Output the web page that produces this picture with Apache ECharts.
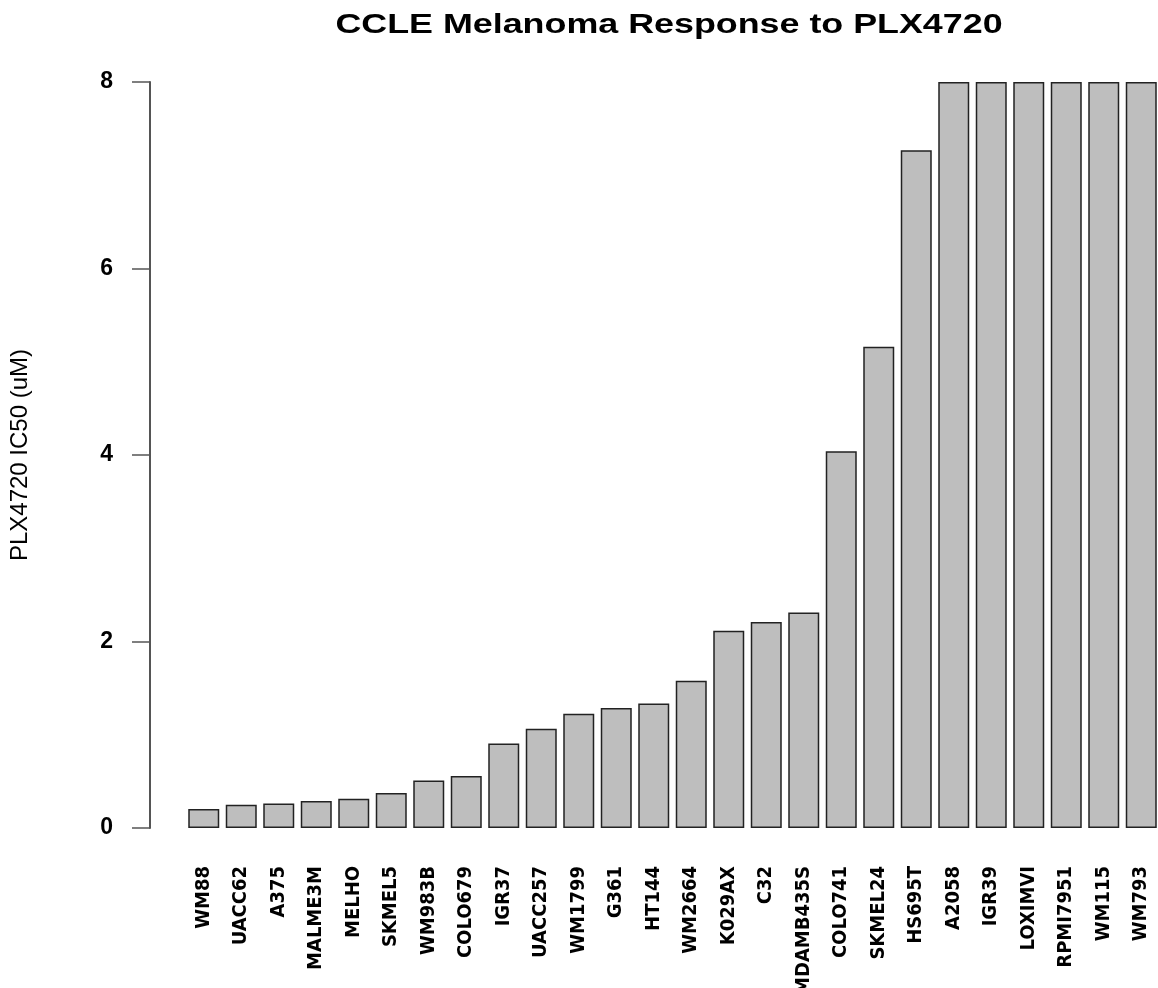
<!DOCTYPE html>
<html>
<head>
<meta charset="utf-8">
<script src="https://cdn.jsdelivr.net/npm/echarts@6/dist/echarts.min.js"></script>
<style>
html,body{margin:0;padding:0;background:#fff;}
#chart{width:1158px;height:988px;}
</style>
</head>
<body>
<div id="chart"></div>
<script>
const chartTitle = "CCLE Melanoma Response to PLX4720";
const yAxisTitle = "PLX4720 IC50 (uM)";
const cellLines = ["WM88","UACC62","A375","MALME3M","MELHO","SKMEL5","WM983B","COLO679","IGR37","UACC257","WM1799","G361","HT144","WM2664","K029AX","C32","MDAMB435S","COLO741","SKMEL24","HS695T","A2058","IGR39","LOXIMVI","RPMI7951","WM115","WM793"];
const ic50Values = [0.204,0.25,0.264,0.289,0.314,0.375,0.51,0.557,0.907,1.064,1.225,1.286,1.335,1.579,2.115,2.208,2.311,4.04,5.16,7.267,8,8,8,8,8,8];
const yTicks = [0,2,4,6,8];

const chart = echarts.init(document.getElementById('chart'));
chart.setOption({
  animation: false,
  backgroundColor: '#fff',
  graphic: [{
    type: 'text',
    x: 669, y: 25,
    scaleX: 1.28,
    style: {
      text: chartTitle,
      font: 'bold 28px "Liberation Sans", Arial, sans-serif',
      fill: '#000',
      textAlign: 'center',
      textVerticalAlign: 'middle'
    }
  }],
  grid: {left: 185, width: 975, top: 82, height: 746, containLabel: false, outerBoundsMode: 'none'},
  xAxis: {
    type: 'category',
    data: cellLines,
    boundaryGap: true,
    axisLine: {show: false},
    axisTick: {show: false},
    axisLabel: {
      interval: 0,
      rotate: 90,
      margin: 38,
      color: '#000',
      fontWeight: 'bold',
      fontSize: 20,
      fontFamily: '"Liberation Sans Narrow", "DejaVu Sans Condensed", "Liberation Sans", sans-serif'
    }
  },
  yAxis: {
    type: 'value',
    min: yTicks[0],
    max: yTicks[yTicks.length - 1],
    interval: 2,
    offset: 35,
    splitLine: {show: false},
    axisLine: {show: true, lineStyle: {color: '#555', width: 2}},
    axisTick: {show: true, length: 18, lineStyle: {color: '#555', width: 1.5}},
    axisLabel: {
      margin: 37,
      color: '#000',
      fontWeight: 'bold',
      fontSize: 23,
      fontFamily: '"Liberation Sans", Arial, sans-serif'
    },
    name: yAxisTitle,
    nameLocation: 'middle',
    nameGap: 118,
    nameTextStyle: {
      color: '#000',
      fontSize: 24,
      fontFamily: '"Liberation Sans", Arial, sans-serif'
    }
  },
  series: [{
    type: 'bar',
    data: ic50Values,
    barWidth: 31,
    itemStyle: {color: '#BEBEBE', borderColor: '#222', borderWidth: 1.5}
  }]
});
</script>
</body>
</html>
